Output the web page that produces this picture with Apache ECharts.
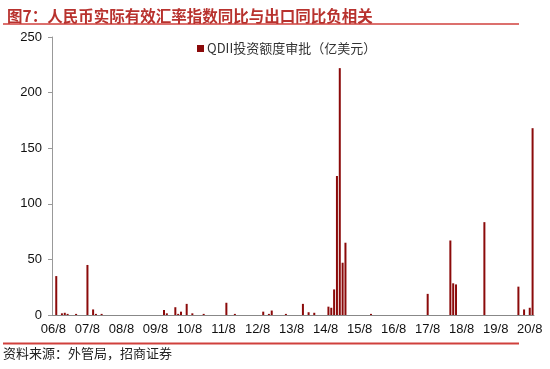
<!DOCTYPE html>
<html>
<head>
<meta charset="utf-8">
<script src="https://cdn.jsdelivr.net/npm/echarts@6/dist/echarts.min.js"></script>
<style>
    html, body { margin: 0; padding: 0; background: #fff; }
    #chart { width: 550px; height: 369px; }
</style>
</head>
<body>
<div id="chart"></div>
<script>
    // 月份类目：2006/8 ~ 2020/9
    var startYear = 2006, startMonth = 8, monthCount = 170;
    var categories = [];
    for (var i = 0; i < monthCount; i++) {
        var m = startMonth - 1 + i;
        categories.push((startYear + Math.floor(m / 12)) + '/' + (m % 12 + 1));
    }

    // 有审批的月份及额度（亿美元），其余月份为 0
    var approvalMonths = [
        '2006/9', '2006/11', '2006/12', '2007/1', '2007/4', '2007/8', '2007/10', '2007/11', '2008/1',
        '2009/11', '2009/12', '2010/3', '2010/4', '2010/5', '2010/7', '2010/9', '2011/1',
        '2011/9', '2011/12', '2012/10', '2012/12', '2013/1', '2013/6', '2013/12', '2014/2', '2014/4',
        '2014/9', '2014/10', '2014/11', '2014/12', '2015/1', '2015/2', '2015/3', '2015/12',
        '2017/8', '2018/4', '2018/5', '2018/6', '2019/4', '2020/4', '2020/6', '2020/8', '2020/9'
    ];
    var approvalValues = [
        35, 1.5, 2, 1, 1, 45, 5, 1, 1,
        4.5, 1.5, 7, 1, 3, 10, 1.5, 1,
        11, 1, 3, 1, 4, 1, 10, 2.5, 2,
        7.5, 6.5, 23, 125, 222, 47, 65, 1,
        19, 67, 28.5, 27.5, 83.5, 25.5, 5, 6.5, 168
    ];
    var yTicks = [0, 50, 100, 150, 200, 250];

    var seriesName = 'QDII投资额度审批（亿美元）';
    var seriesData = categories.map(function (c) {
        var k = approvalMonths.indexOf(c);
        return k >= 0 ? approvalValues[k] : 0;
    });

    var myChart = echarts.init(document.getElementById('chart'), null, {renderer: 'canvas'});
    var option = {
        backgroundColor: '#fff',
        animation: false,
        title: {
            text: '图7：人民币实际有效汇率指数同比与出口同比负相关',
            left: 2,
            top: 3,
            textStyle: {
                color: '#b8322e',
                fontSize: 15.5,
                fontWeight: 'bold',
                fontFamily: 'Noto Sans CJK SC'
            }
        },
        graphic: [
            {type: 'line', shape: {x1: 3, y1: 24, x2: 519, y2: 24}, style: {stroke: '#d0403c', lineWidth: 1.5}},
            {type: 'line', shape: {x1: 3, y1: 343.5, x2: 519, y2: 343.5}, style: {stroke: '#d0403c', lineWidth: 2}},
            {
                type: 'text', left: 3, top: 347,
                style: {text: '资料来源：外管局，招商证券', fill: '#222', font: '13px "Noto Sans CJK SC"'}
            }
        ],
        legend: {
            data: [seriesName],
            left: 192,
            top: 37,
            icon: 'rect',
            itemWidth: 7,
            itemHeight: 7,
            itemGap: 4,
            textStyle: {color: '#333', fontSize: 13, fontFamily: 'Noto Sans CJK SC', padding: [0, 0, 0, -2]}
        },
        grid: {left: 52, right: 16, top: 37, bottom: 54},
        xAxis: {
            type: 'category',
            data: categories,
            axisLine: {lineStyle: {color: '#888', width: 1}},
            axisTick: {show: false},
            axisLabel: {
                interval: 11,
                margin: 8,
                color: '#111',
                fontSize: 13,
                fontFamily: 'Liberation Sans',
                formatter: function (v) {
                    var p = v.split('/');
                    return p[0].slice(2) + '/' + p[1];
                }
            }
        },
        yAxis: {
            type: 'value',
            min: yTicks[0],
            max: yTicks[yTicks.length - 1],
            interval: 50,
            splitLine: {show: false},
            axisLine: {show: true, lineStyle: {color: '#999', width: 1}},
            axisTick: {show: true, inside: false, length: 4, lineStyle: {color: '#999'}},
            axisLabel: {color: '#111', fontSize: 13, margin: 10, fontFamily: 'Liberation Sans'}
        },
        series: [{
            name: seriesName,
            type: 'bar',
            data: seriesData,
            barWidth: 2,
            itemStyle: {color: '#8b0a0a'}
        }]
    };
    myChart.setOption(option);
</script>
</body>
</html>
